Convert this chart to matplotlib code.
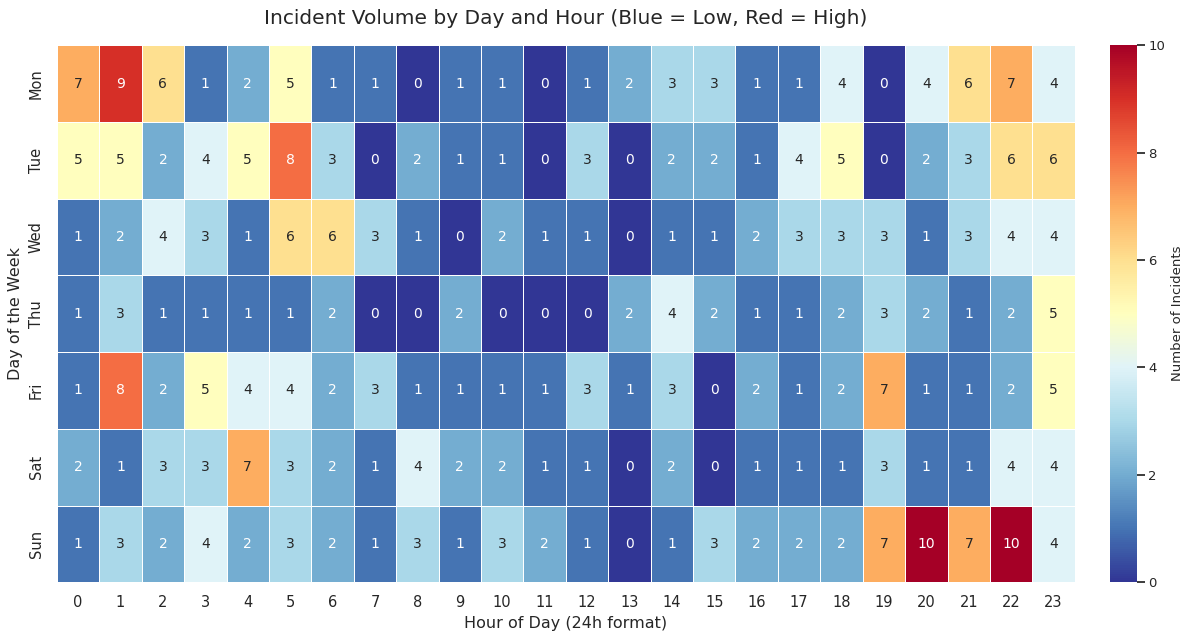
import matplotlib
matplotlib.use("Agg")
import matplotlib.pyplot as plt
import numpy as np
import pandas as pd
import seaborn as sns

days = ["Mon", "Tue", "Wed", "Thu", "Fri", "Sat", "Sun"]
hours = list(range(24))

mon = [7, 9, 6, 1, 2, 5, 1, 1, 0, 1, 1, 0, 1, 2, 3, 3, 1, 1, 4, 0, 4, 6, 7, 4]
tue = [5, 5, 2, 4, 5, 8, 3, 0, 2, 1, 1, 0, 3, 0, 2, 2, 1, 4, 5, 0, 2, 3, 6, 6]
wed = [1, 2, 4, 3, 1, 6, 6, 3, 1, 0, 2, 1, 1, 0, 1, 1, 2, 3, 3, 3, 1, 3, 4, 4]
thu = [1, 3, 1, 1, 1, 1, 2, 0, 0, 2, 0, 0, 0, 2, 4, 2, 1, 1, 2, 3, 2, 1, 2, 5]
fri = [1, 8, 2, 5, 4, 4, 2, 3, 1, 1, 1, 1, 3, 1, 3, 0, 2, 1, 2, 7, 1, 1, 2, 5]
sat = [2, 1, 3, 3, 7, 3, 2, 1, 4, 2, 2, 1, 1, 0, 2, 0, 1, 1, 1, 3, 1, 1, 4, 4]
sun = [1, 3, 2, 4, 2, 3, 2, 1, 3, 1, 3, 2, 1, 0, 1, 3, 2, 2, 2, 7, 10, 7, 10, 4]

counts = pd.DataFrame([mon, tue, wed, thu, fri, sat, sun], index=days, columns=hours)

sns.set_theme(style="whitegrid")
plt.rcParams["font.family"] = ["DejaVu Sans"]

fig = plt.figure(figsize=(11.85, 6.37), dpi=100)
ax = fig.add_axes([0.048, 0.086, 0.859, 0.843])
cax = fig.add_axes([0.937, 0.086, 0.0228, 0.843])

sns.heatmap(
    counts,
    cmap="RdYlBu_r",
    vmin=0,
    vmax=10,
    annot=True,
    fmt="d",
    linewidths=0.5,
    linecolor="white",
    annot_kws={"fontsize": 10},
    cbar_ax=cax,
    ax=ax,
)
cax.set_ylabel("Number of Incidents", fontsize=9.5, labelpad=4)
cax.tick_params(labelsize=9.5, pad=2)

ax.set_title("Incident Volume by Day and Hour (Blue = Low, Red = High)", fontsize=14.5, pad=15)
ax.set_xlabel("Hour of Day (24h format)", fontsize=11.5)
ax.set_ylabel("Day of the Week", fontsize=11.5)
ax.tick_params(axis="both", labelsize=10.5)
plt.setp(ax.get_yticklabels(), rotation=90, va="center")

fig.savefig("out.png")
